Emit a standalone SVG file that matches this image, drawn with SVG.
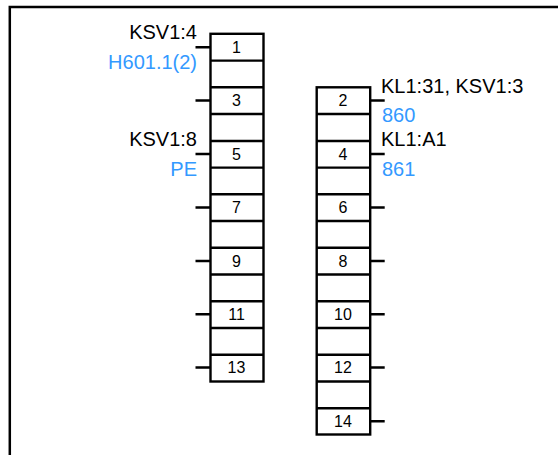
<svg xmlns="http://www.w3.org/2000/svg" width="558" height="455" viewBox="0 0 558 455">
<style>
.f{fill:none;stroke:#000;stroke-width:2.500}
.c{fill:#fff;stroke:#000;stroke-width:2.400}
.w{stroke:#000;stroke-width:2.400;fill:none}
text{font-family:"Liberation Sans",Arial,sans-serif}
.n{font-size:16px;fill:#000;text-anchor:middle}
.k{font-size:20px;fill:#000}
.b{font-size:20px;fill:#3399ff}
.e{text-anchor:end}
</style>
<path id="frame" class="f" d="M9.800 455V7H558"/>
<g id="connectors">
<path class="w" d="M195.500 47.300H210.500M195.500 100.500H210.500M195.500 154H210.500M195.500 207.500H210.500M195.500 261H210.500M195.500 314.300H210.500M195.500 367.500H210.500"/>
<path class="w" d="M370 100.500H384.700M370 154H384.700M370 207.500H384.700M370 261H384.700M370 314.300H384.700M370 367.500H384.700M370 421.300H384.700"/>
</g>
<g id="strip-left">
<rect class="c" x="210.500" y="33.800" width="53" height="347.700"/>
<path class="w" d="M210.500 60.600H263.500M210.500 87.300H263.500M210.500 114H263.500M210.500 141H263.500M210.500 167.600H263.500M210.500 194.200H263.500M210.500 221H263.500M210.500 247.700H263.500M210.500 274.500H263.500M210.500 301.300H263.500M210.500 328H263.500M210.500 354.700H263.500"/>
</g>
<g id="strip-right">
<rect class="c" x="316.700" y="87.300" width="53.500" height="347.200"/>
<path class="w" d="M316.700 114H370.200M316.700 141H370.200M316.700 167.600H370.200M316.700 194.200H370.200M316.700 221H370.200M316.700 247.700H370.200M316.700 274.500H370.200M316.700 301.300H370.200M316.700 328H370.200M316.700 354.700H370.200M316.700 381.500H370.200M316.700 408.200H370.200"/>
</g>
<g id="t1"><text class="n" x="236.500" y="53">1</text><text class="k e" x="197" y="39">KSV1:4</text><text class="b e" x="197" y="69">H601.1(2)</text></g>
<g id="t3"><text class="n" x="236.500" y="106">3</text></g>
<g id="t5"><text class="n" x="236.500" y="160">5</text><text class="k e" x="197" y="146">KSV1:8</text><text class="b e" x="197" y="176">PE</text></g>
<g id="t7"><text class="n" x="236.500" y="213">7</text></g>
<g id="t9"><text class="n" x="236.500" y="266.500">9</text></g>
<g id="t11"><text class="n" x="236.500" y="320">11</text></g>
<g id="t13"><text class="n" x="236.500" y="373">13</text></g>
<g id="t2"><text class="n" x="343" y="106">2</text><text class="k" x="381" y="93">KL1:31, KSV1:3</text><text class="b" x="382" y="122">860</text></g>
<g id="t4"><text class="n" x="343" y="160">4</text><text class="k" x="381" y="146">KL1:A1</text><text class="b" x="382" y="176">861</text></g>
<g id="t6"><text class="n" x="343" y="213">6</text></g>
<g id="t8"><text class="n" x="343" y="266.500">8</text></g>
<g id="t10"><text class="n" x="343" y="320">10</text></g>
<g id="t12"><text class="n" x="343" y="373">12</text></g>
<g id="t14"><text class="n" x="343" y="427">14</text></g>
</svg>
